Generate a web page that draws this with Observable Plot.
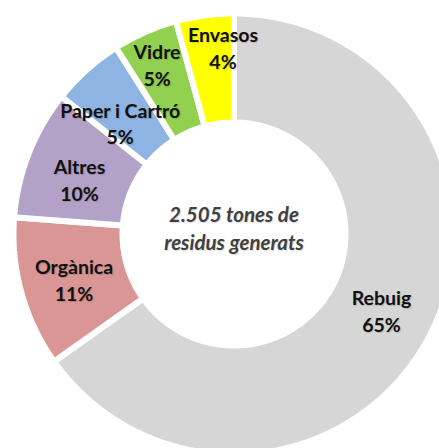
<!DOCTYPE html>
<html>
<head>
<meta charset="utf-8">
<script src="https://cdn.jsdelivr.net/npm/d3@7"></script>
<script src="https://cdn.jsdelivr.net/npm/@observablehq/plot@0.6"></script>
<style>
  html, body { margin: 0; padding: 0; background: #fff; }
  #chart svg { display: block; }
  #chart text { text-shadow: 1px 1px 1px rgba(0,0,0,0.15); }
</style>
</head>
<body>
<div id="chart"></div>
<script>
// ---- data ----
const categories = ["Rebuig", "Orgànica", "Altres", "Paper i Cartró", "Vidre", "Envasos"];
const tonnes     = [1633, 276, 238, 133, 119, 106];
const pctLabels  = ["65%", "11%", "10%", "5%", "5%", "4%"];
const sliceColors = ["url(#rebuig-dots)", "#d99694", "#b3a2c7", "#8eb4e3", "#92d050", "#ffff00"];
const centerLines = ["2.505 tones de", "residus generats"];

// ---- layout ----
const W = 439, H = 448;
const cx = 233.5, cy = 233.5;      // donut centre in px
const rOuter = 220.5, rInner = 111.5;
const rLabel = (rOuter + rInner) / 2;
// label nudges (px, screen directions) to match Excel placement
const labelNudge = {
  "Rebuig": [0, 0], "Orgànica": [0, 1], "Altres": [0, 6],
  "Paper i Cartró": [-3, 12], "Vidre": [-10, -18], "Envasos": [11, -23]
};

const rows = categories.map((c, i) => ({cat: c, t: tonnes[i], pct: pctLabels[i]}));
const arcs = d3.pie().sort(null).value(d => d.t).startAngle(0).endAngle(2 * Math.PI)(rows);

// polygon outline of each ring sector (geometry from pie angles)
const outline = [];
for (const a of arcs) {
  const n = Math.max(4, Math.ceil((a.endAngle - a.startAngle) / 0.01));
  for (let k = 0; k <= n; k++) {
    const ang = a.startAngle + (a.endAngle - a.startAngle) * k / n;
    outline.push({cat: a.data.cat, x: rOuter * Math.sin(ang), y: rOuter * Math.cos(ang)});
  }
  for (let k = n; k >= 0; k--) {
    const ang = a.startAngle + (a.endAngle - a.startAngle) * k / n;
    outline.push({cat: a.data.cat, x: rInner * Math.sin(ang), y: rInner * Math.cos(ang)});
  }
}

const labels = arcs.map(a => {
  const m = (a.startAngle + a.endAngle) / 2;
  const [ndx, ndy] = labelNudge[a.data.cat];
  return {
    cat: a.data.cat,
    x: rLabel * Math.sin(m) + ndx,
    y: rLabel * Math.cos(m) - ndy,
    text: a.data.cat + "\n" + a.data.pct
  };
});

const fontFamily = "Lato, 'Noto Sans', sans-serif";

const svg = Plot.plot({
  width: W, height: H,
  margin: 0,
  x: {domain: [-cx, W - cx], axis: null},
  y: {domain: [-(H - cy), cy], axis: null},
  color: {domain: categories, range: sliceColors},
  style: {fontFamily, background: "#fff", overflow: "hidden"},
  marks: [
    Plot.line(outline, {
      x: "x", y: "y", z: "cat", fill: "cat",
      stroke: "#fff", strokeWidth: 6, strokeLinejoin: "miter",
      curve: "linear-closed"
    }),
    Plot.text(labels, {
      x: "x", y: "y", text: "text",
      fontSize: 19.5, fontWeight: "bold", fill: "#111", lineHeight: 1.38
    }),
    Plot.text([centerLines.join("\n")], {
      x: () => 0, y: () => 7, text: d => d,
      fontSize: 20.5, fontWeight: "bold", fontStyle: "italic", fill: "#404040", lineHeight: 1.37
    })
  ]
});

// dotted fill pattern for "Rebuig"
const ns = "http://www.w3.org/2000/svg";
const defs = document.createElementNS(ns, "defs");
defs.innerHTML =
  '<pattern id="rebuig-dots" patternUnits="userSpaceOnUse" width="2" height="2">' +
  '<rect width="2" height="2" fill="#d6d6d6"/>' +
  '<rect width="1" height="1" fill="#c4c4c4"/>' +
  '<rect x="1" y="1" width="1" height="1" fill="#e6e6e6"/>' +
  '</pattern>';
svg.insertBefore(defs, svg.firstChild);

document.getElementById("chart").appendChild(svg);
</script>
</body>
</html>
